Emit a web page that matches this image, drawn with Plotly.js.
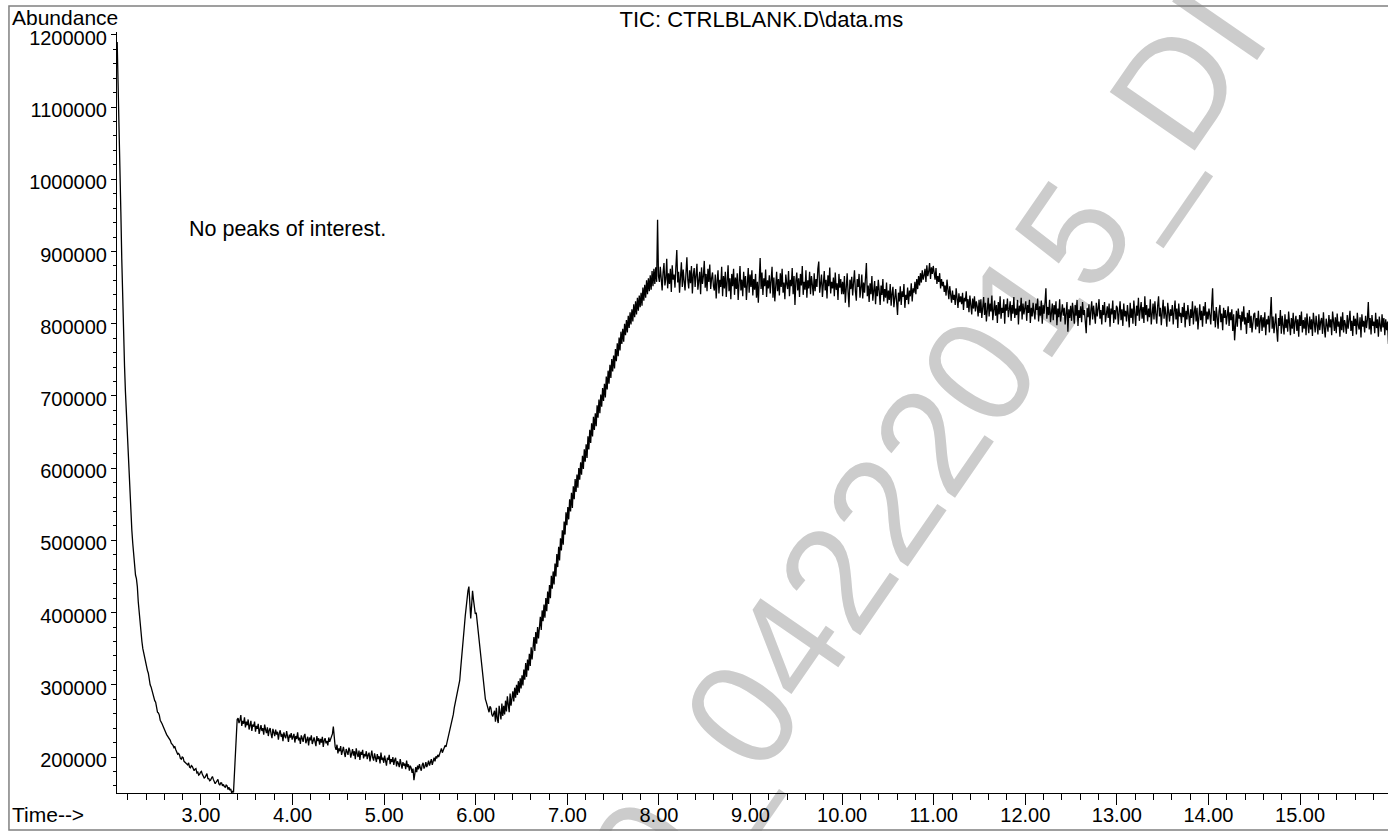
<!DOCTYPE html>
<html>
<head>
<meta charset="utf-8">
<script src="https://cdn.plot.ly/plotly-3.0.1.min.js"></script>
<style>
html,body{margin:0;padding:0;background:#ffffff;}
#chart{width:1388px;height:831px;}
</style>
</head>
<body>
<div id="chart"></div>
<script>
// Scan timing of the TIC (minutes)
const scanStart = 2.085;
const scanStep = 0.01;

// Abundance values in thousands (one row = 0.1 min)
const decayK = [
1190,1140,1078,1015,955,890,832,785,742,706,
676,645,618,590,566,538,514,496,480,464,
452,447,436,415,398,384,372,360,350,344,
338,329,322,320,316,306,300,297,292,284,
279,278,276,268,262,261,258,251,249,246,
243,239,237,234,231,229,226,225,223,219,
218,216,213,214,210,206,204,205,203,198,
197,200,199,194,193,192,190,189,192,186,
185,188,187,182,181,183,184,178,179,175,
176,179,180,176,174,171,172,176,177,170,
170,167,168,171,173,169,166,163,165,168,
169,163,161,164,164,160,162,159,158,161,
160,155,158,154,156,150,153,151,178,215,244,252
];
const lowPlateauK = [
254,247,251,258,243,250,246,255,241,249,
244,252,238,247,250,236,245,242,249,235,
243,239,246,232,241,244,236,240,231,245,
238,233,241,229,237,240,232,226,239,235,
229,238,231,235,224,233,237,228,232,222,
234,229,226,236,230,221,231,227,233,224,
228,232,220,229,225,234,223,227,218,230,
226,221,229,232,219,225,228,216,227,223,
230,218,224,227,221,215,229,222,226,217,
225,220,228,214,223,226,219,222,216,227,
221,225,229,232,242,226,214,210,217,205,
212,208,215,203,210,214,206,200,211,207,
203,213,209,199,206,211,202,208,197,212,
205,200,209,196,207,203,210,198,204,201,
208,197,203,206,194,202,209,199,195,205,
200,193,204,197,201,191,206,196,199,192,
202,195,188,199,196,203,190,197,193,200,
189,196,199,187,194,191,186,197,190,184,
193,188,191,183,195,186,190,181,188,185,
178,184,168,182,186,179,188,183,190,185,
181,189,192,184,187,193,186,190,195,188,
192,197,189,195,199,194,201,198,203,200,
204
];
const humpK = [
207,212,206,209,213,216,214,220,223,228,
233,240,246,254,259,268,274,282,285,292,
298,306,322,340,349,362,380,395,410,420,
430,436,412,392,410,430,418,405,398,400,
388,372,361,348,336,322,309,296,286,280,
276,272,266,262,270,268,259,256,260
];
const riseK = [
264,249,268,253,247,271,258,252,274,257,
271,259,278,263,284,268,262,288,271,281,
291,277,296,282,300,286,305,289,309,295,
313,299,321,307,330,311,335,320,343,326,
352,335,359,366,347,373,357,380,364,387,
394,376,403,388,411,393,420,402,429,412,
438,420,451,433,457,439,468,450,481,463,
491,472,503,486,514,494,526,508,539,521,
546,529,557,540,566,545,575,557,585,567,
591,573,600,584,608,591,617,599,626,609,
633,614,644,626,653,635,662,644,671,653,
676,658,687,670,695,676,702,685,711,693,
717,698,727,709,735,717,743,725,751,734,
756,738,765,748,773,755,781,763,789,772,
793,775,800,784,805,788,811,794,816,799,
820,803,827,809,831,813,836,818,839,823,
843,825,850,832,854,836,860,841,863,845,
867,847,873,852,876,855,878,858,944,866
];
const plateau8K = [
858,879,866,846,871,884,853,862,890,849,
870,855,876,844,881,861,868,850,879,902,
857,872,843,866,885,851,875,859,846,870,
892,861,849,874,856,880,842,868,877,851,
864,883,847,859,872,841,878,855,866,887,
850,869,845,876,858,882,848,863,871,852
];
const plateau9K = [
846,868,835,859,874,842,861,851,879,838,
866,849,872,837,858,881,845,863,834,869,
852,876,840,864,848,870,833,857,880,846,
861,838,872,850,866,833,859,877,843,868,
851,874,839,862,847,869,836,858,829,866,
891,848,871,840,863,852,875,837,860,849,
867,842,858,879,836,864,831,853,872,845,
862,839,870,851,876,843,857,834,868,855,
848,873,838,861,852,877,841,866,826,859,
871,846,863,837,869,853,880,840,858,847,
874,836,860,849,872,841,866,854,839,870,
845,862,851,876,886,843,859,868,837,855,
873,846,861,835,867,852,878,842,858,849,
864,838,871,847,856,833,869,850,862,841
];
const plateau10K = [
858,841,866,829,853,870,844,823,861,848,
865,839,857,874,845,832,862,851,869,836,
850,868,835,857,843,862,884,838,853,830,
856,841,866,832,849,859,827,852,838,861,
845,826,853,840,862,831,848,836,857,828,
846,833,855,825,842,851,823,839,848,830,
812,843,831,852,826,845,837,855,822,840,
833,850,827,846,838,856,831,849,843,858,
841,862,848,866,853,870,857,874,861,867,
876,858,881,866,872,884,862,878,869,880
];
const plateau11K = [
872,861,877,855,866,858,870,849,862,852,
858,844,853,839,861,846,834,852,841,829,
846,833,840,826,849,836,822,842,830,838,
827,843,819,836,831,845,822,834,816,839,
828,813,835,821,838,817,831,824,810,833
];
const plateau12K = [
815,834,808,826,837,812,829,803,821,836,
810,828,817,839,805,824,832,811,826,801,
830,813,838,807,822,815,834,800,827,818,
835,809,823,831,804,826,814,837,808,821,
812,833,799,825,817,836,806,828,813,822,
831,804,826,815,833,801,822,810,829,816,
806,828,819,835,803,824,811,832,800,826,
814,829,849,807,823,812,833,802,820,828,
805,826,813,831,798,821,809,834,803,818,
827,811,822,799,816,830,789,820,808,825,
804,829,815,800,826,811,833,797,819,808,
824,802,830,812,819,801,787,822,809,827,
798,818,831,806,825,813,800,829,810,821,
834,807,819,799,826,812,830,802,817,824,
808,828,796,821,813,832,801,819,806,825
];
const plateau13K = [
822,799,816,831,805,820,797,828,810,818,
803,826,812,795,829,808,821,800,832,814,
797,825,811,836,804,819,830,807,823,801,
838,812,826,803,821,809,834,799,817,828,
806,831,814,800,825,838,810,822,798,819,
833,807,824,812,796,829,815,803,820,811,
826,799,817,832,806,821,794,828,810,815,
801,823,809,829,795,818,806,826,812,797,
820,808,831,799,816,825,803,822,792,814,
827,805,818,796,824,811,830,800,817,806,
821,812,799,826,849,804,818,795,823,809,
793,817,826,802,814,791,822,808,819,799,
811,824,797,816,805,820,790,813,777,808,
818,796,821,807,812,791,817,803,824,799,
809,786,815,801,819,794,811,788,806,813
];
const plateau15K = [
815,792,808,796,818,787,805,812,790,809,
795,816,784,806,799,811,788,815,837,793,
810,787,804,814,791,775,808,797,819,786,
811,800,785,813,794,806,789,817,798,784,
808,793,815,786,803,811,790,806,782,812,
797,817,788,805,793,809,784,814,799,787,
810,792,806,783,815,796,788,811,801,785,
813,791,803,808,786,816,794,781,807,798,
789,812,795,806,784,817,799,790,809,787,
814,796,803,782,810,791,816,788,805,799,
786,812,793,808,818,790,804,783,811,797,
807,785,815,798,792,809,781,813,796,804,
788,811,794,806,830,792,808,785,812,797,
803,787,815,794,806,782,810,798,789,813,
795,808,784,806,791,803,772
];

const abundanceK = [].concat(decayK, lowPlateauK, humpK, riseK, plateau8K,
  plateau9K, plateau10K, plateau11K, plateau12K, plateau13K, plateau15K);
const abundance = abundanceK.map(v => v * 1000);

// Texts
const chartTitle = 'TIC: CTRLBLANK.D\\data.ms';
const yLabel = 'Abundance';
const xLabel = 'Time-->';
const note = 'No peaks of interest.';
const watermark = '0_04222015_DI';

const FONT = '"Liberation Sans", Arial, Helvetica, sans-serif';

const trace = {
  type: 'scatter',
  mode: 'lines',
  x0: scanStart,
  dx: scanStep,
  y: abundance,
  line: {color: '#000000', width: 1.3},
  hoverinfo: 'skip',
  showlegend: false
};

const layout = {
  width: 1388,
  height: 831,
  margin: {l: 117, r: 0, t: 32, b: 38, pad: 0},
  paper_bgcolor: '#ffffff',
  plot_bgcolor: 'rgba(0,0,0,0)',
  showlegend: false,
  font: {family: FONT, size: 20, color: '#000000'},
  title: {
    text: chartTitle,
    font: {family: FONT, size: 22, color: '#000000'},
    xref: 'paper', x: 0.507, xanchor: 'center',
    yref: 'container', y: 0.9765, yanchor: 'middle'
  },
  xaxis: {
    range: [2.083, 15.96],
    tick0: 0, dtick: 1, tickformat: '.2f',
    ticks: 'outside', ticklen: 11, tickwidth: 1, tickcolor: '#000000',
    ticklabelstandoff: -7,
    showline: true, linecolor: '#000000', linewidth: 1,
    showgrid: false, zeroline: false, fixedrange: true,
    tickfont: {family: FONT, size: 20, color: '#000000'},
    minor: {tick0: 0, dtick: 0.2, ticks: 'outside', ticklen: 6, tickwidth: 1, tickcolor: '#000000', showgrid: false},
    automargin: false
  },
  yaxis: {
    range: [150140, 1204000],
    tick0: 0, dtick: 100000, tickformat: 'd',
    ticks: 'outside', ticklen: 5, tickwidth: 1, tickcolor: '#000000',
    ticklabelshift: 3,
    showline: true, linecolor: '#000000', linewidth: 1,
    showgrid: false, zeroline: false, fixedrange: true,
    tickfont: {family: FONT, size: 20, color: '#000000'},
    minor: {tick0: 0, dtick: 20000, ticks: 'outside', ticklen: 3, tickwidth: 1, tickcolor: '#000000', showgrid: false},
    automargin: false
  },
  annotations: [
    {
      text: watermark, xref: 'paper', yref: 'paper', x: 0.6373, y: 0.4547,
      xanchor: 'center', yanchor: 'middle', textangle: -55.4, showarrow: false,
      font: {family: FONT, size: 150, color: '#cccccc'}
    },
    {
      text: yLabel, xref: 'paper', yref: 'paper', x: -0.0842, y: 1.0195,
      xanchor: 'left', yanchor: 'middle', showarrow: false,
      font: {family: FONT, size: 21, color: '#000000'}
    },
    {
      text: xLabel, xref: 'paper', yref: 'paper', x: -0.0842, y: -0.0289,
      xanchor: 'left', yanchor: 'middle', showarrow: false,
      font: {family: FONT, size: 21, color: '#000000'}
    },
    {
      text: note, xref: 'paper', yref: 'paper', x: 0.0551, y: 0.741,
      xanchor: 'left', yanchor: 'middle', showarrow: false,
      font: {family: FONT, size: 21.5, color: '#000000'}
    }
  ],
  shapes: [
    {
      type: 'rect', xref: 'paper', yref: 'paper',
      x0: -0.085, x1: 1.02, y0: -0.0486, y1: 1.0342,
      line: {color: '#808080', width: 1.5}, fillcolor: 'rgba(0,0,0,0)', layer: 'above'
    }
  ]
};

Plotly.newPlot('chart', [trace], layout, {staticPlot: true, displayModeBar: false}).then(gd => {
  // keep the watermark behind the trace and the axes
  const ann = gd.querySelector('.infolayer .annotation[data-index="0"]');
  const cart = gd.querySelector('.main-svg .cartesianlayer');
  if (ann && cart) cart.parentNode.insertBefore(ann, cart);
});
</script>
</body>
</html>
